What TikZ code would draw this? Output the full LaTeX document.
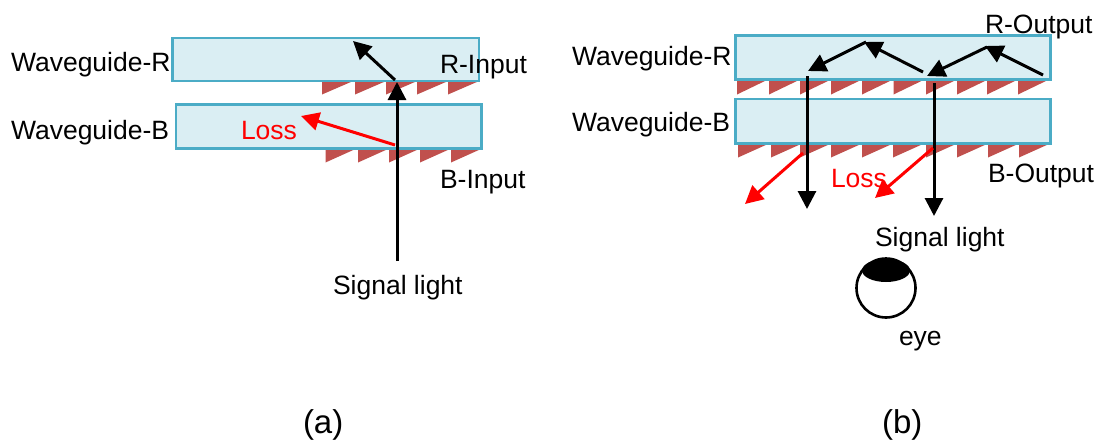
\documentclass[tikz,border=0pt]{standalone}
\usepackage{fontspec}
\setmainfont{Liberation Sans}
\usetikzlibrary{arrows.meta}
\definecolor{wgfill}{HTML}{DAEEF3}
\definecolor{wgline}{HTML}{4BACC6}
\definecolor{toothred}{HTML}{C0504D}
\tikzset{
  wg/.style={draw=wgline,fill=wgfill,line width=2.7pt},
  tooth/.style={fill=toothred,draw=none},
  lbl/.style={anchor=base west,inner sep=0pt,outer sep=0pt,font=\fontsize{26.5}{30}\selectfont,text=black},
  caplbl/.style={lbl,font=\fontsize{33}{36}\selectfont},
  losslbl/.style={lbl,text=red},
  ray/.style={draw=black,line width=3pt,-{Triangle[length=18pt,width=18pt]}},
  lossray/.style={draw=red,line width=3pt,-{Triangle[length=18pt,width=18pt]}},
}
\begin{document}
\begin{tikzpicture}[x=1pt,y=-1pt]
\useasboundingbox (0,0) rectangle (1097,439);
% gratings
\foreach \x in {322,355,386,417,448} \fill[tooth] (\x,81.5) -- (\x+30,81.5) -- (\x,94.5) -- cycle;
\foreach \x in {325.5,358,389,420,451} \fill[tooth] (\x,149) -- (\x+30,149) -- (\x,162.5) -- cycle;
\foreach \x in {737,769,800,831,862,893.5,926,957,987,1018} \fill[tooth] (\x,80) -- (\x+30,80) -- (\x,94.5) -- cycle;
\foreach \x in {738,771,800,831,862,893,926,957,988,1019} \fill[tooth] (\x,144) -- (\x+30,144) -- (\x,157.5) -- cycle;
% waveguides
\draw[wg] (172.5,38) rectangle (479,81);
\draw[wg] (176,104.3) rectangle (481.7,148.7);
\draw[wg] (735.3,35.3) rectangle (1050.4,79.7);
\draw[wg] (735.3,99) rectangle (1050.4,143.7);
% labels (a)
\node[lbl] (wra) at (11,71) {Waveguide-R};
\node[lbl] (wba) at (11,139) {Waveguide-B};
\node[lbl] (rin) at (440,73) {R-Input};
\node[lbl] (bin) at (440,188) {B-Input};
\node[lbl] (sa) at (333,294) {Signal light};
\node[losslbl] (la) at (241,139) {Loss};
\node[caplbl] (capa) at (303,433) {(a)};
% labels (b)
\node[lbl] (wrb) at (572,65) {Waveguide-R};
\node[lbl] (wbb) at (572,131) {Waveguide-B};
\node[lbl] (rout) at (985,33) {R-Output};
\node[lbl] (bout) at (988,182) {B-Output};
\node[losslbl] (lb) at (831,187) {Loss};
\node[lbl] (sb) at (875,246) {Signal light};
\node[lbl] (eyel) at (899,345) {eye};
\node[caplbl] (capb) at (882,433) {(b)};
% ray points (a)
\coordinate (a0) at (397,261);
\coordinate (a1) at (397,82);
\coordinate (a2) at (395,80);
\coordinate (a3) at (353,41);
\coordinate (a4) at (395,145);
\coordinate (a5) at (301,116);
\draw[ray] (a0) -- (a1);
\draw[ray] (a2) -- (a3);
\draw[lossray] (a4) -- (a5);
% ray points (b)
\coordinate (b0) at (1043,75);
\coordinate (b1) at (985,46);
\coordinate (b2) at (987,47);
\coordinate (b3) at (927,76);
\coordinate (b4) at (923,72);
\coordinate (b5) at (864,42);
\coordinate (b6) at (866,42);
\coordinate (b7) at (808,71);
\coordinate (b8) at (807,76);
\coordinate (b9) at (807,209);
\coordinate (b10) at (934,83);
\coordinate (b11) at (934,216);
\coordinate (b12) at (803,153);
\coordinate (b13) at (745,204);
\coordinate (b14) at (933,148);
\coordinate (b15) at (875,198);
\draw[ray] (b0) -- (b1);
\draw[ray] (b2) -- (b3);
\draw[ray] (b4) -- (b5);
\draw[ray] (b6) -- (b7);
\draw[ray] (b8) -- (b9);
\draw[ray] (b10) -- (b11);
\draw[lossray] (b12) -- (b13);
\draw[lossray] (b14) -- (b15);
% eye
\draw[black,line width=2.6pt,fill=white] (886,288) circle (29.5);
\fill[black] (886,270.5) ellipse (24 and 11.5);
\end{tikzpicture}
\end{document}
